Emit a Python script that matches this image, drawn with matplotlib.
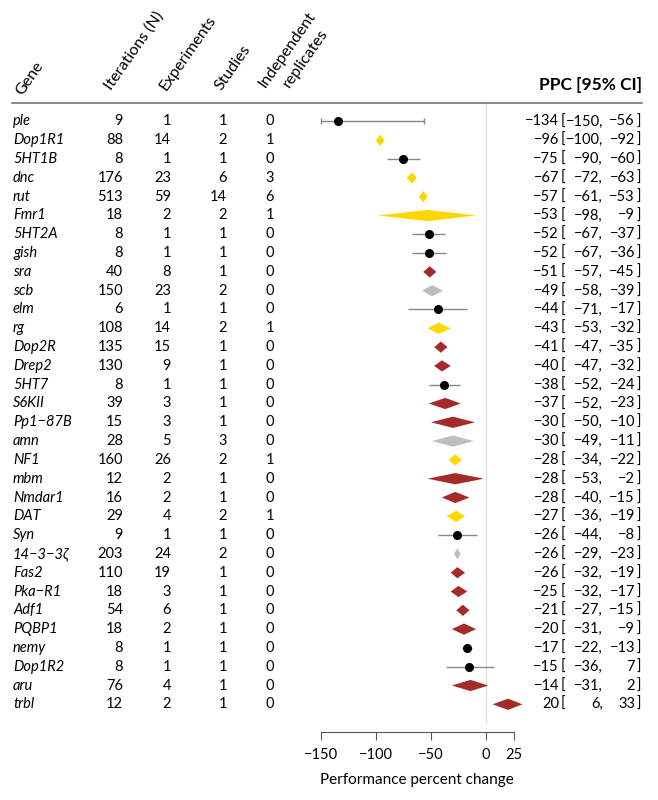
import numpy as np
import matplotlib
matplotlib.use("Agg")
import matplotlib.pyplot as plt
from matplotlib.lines import Line2D
from matplotlib.patches import Polygon
from matplotlib.transforms import blended_transform_factory

plt.rcParams['font.family'] = ['Lato', 'DejaVu Sans']
plt.rcParams['font.size'] = 10.5

# ---- data ----
genes = ["ple", "Dop1R1", "5HT1B", "dnc", "rut", "Fmr1", "5HT2A", "gish", "sra", "scb",
         "elm", "rg", "Dop2R", "Drep2", "5HT7", "S6KII", "Pp1\u221287B", "amn", "NF1", "mbm",
         "Nmdar1", "DAT", "Syn", "14\u22123\u22123\u03b6", "Fas2", "Pka\u2212R1", "Adf1", "PQBP1",
         "nemy", "Dop1R2", "aru", "trbl"]
iterations = [9, 88, 8, 176, 513, 18, 8, 8, 40, 150, 6, 108, 135, 130, 8, 39, 15, 28, 160, 12,
              16, 29, 9, 203, 110, 18, 54, 18, 8, 8, 76, 12]
experiments = [1, 14, 1, 23, 59, 2, 1, 1, 8, 23, 1, 14, 15, 9, 1, 3, 3, 5, 26, 2,
               2, 4, 1, 24, 19, 3, 6, 2, 1, 1, 4, 2]
studies = [1, 2, 1, 6, 14, 2, 1, 1, 1, 2, 1, 2, 1, 1, 1, 1, 1, 3, 2, 1,
           1, 2, 1, 2, 1, 1, 1, 1, 1, 1, 1, 1]
replicates = [0, 1, 0, 3, 6, 1, 0, 0, 0, 0, 0, 1, 0, 0, 0, 0, 0, 0, 1, 0,
              0, 1, 0, 0, 0, 0, 0, 0, 0, 0, 0, 0]
ppc = [-134, -96, -75, -67, -57, -53, -52, -52, -51, -49, -44, -43, -41, -40, -38, -37, -30, -30,
       -28, -28, -28, -27, -26, -26, -26, -25, -21, -20, -17, -15, -14, 20]
ci_lo = [-150, -100, -90, -72, -61, -98, -67, -67, -57, -58, -71, -53, -47, -47, -52, -52, -50, -49,
         -34, -53, -40, -36, -44, -29, -32, -32, -27, -31, -22, -36, -31, 6]
ci_hi = [-56, -92, -60, -63, -53, -9, -37, -36, -45, -39, -17, -32, -35, -32, -24, -23, -10, -11,
         -22, -2, -15, -19, -8, -23, -19, -17, -15, -9, -13, 7, 2, 33]

x_ticks = [-150, -100, -50, 0, 25]

GOLD, BROWN, GREY = "#FFD700", "#A52A2A", "#BEBEBE"

W, H = 658, 800


def fx(px):
    return px / W


def fy(py):
    return 1 - py / H


def minus(v):
    return f"{v}".replace("-", "\u2212")


fig = plt.figure(figsize=(W / 100, H / 100), dpi=100)

# forest panel: -150 -> 320.7px, 0 -> 486px
x0, x1 = -160, 35
scale = (486 - 320.7) / 150
left_px = 486 + scale * x0
right_px = 486 + scale * x1
top_px, bot_px = 103, 731.7
row0, step = 121.5, 18.8
y_top = (top_px - row0) / step
y_bot = 31 + (bot_px - (row0 + 31 * step)) / step

ax = fig.add_axes([fx(left_px), fy(bot_px), fx(right_px - left_px), (bot_px - top_px) / H])
ax.set_xlim(x0, x1)
ax.set_ylim(y_bot, y_top)
for s in ["top", "right", "left"]:
    ax.spines[s].set_visible(False)
ax.spines["bottom"].set_bounds(-150, 25)
ax.spines["bottom"].set_color("#555555")
ax.set_yticks([])
ax.set_xticks(x_ticks)
ax.set_xticklabels([minus(t) for t in x_ticks])
ax.tick_params(axis="x", length=6, color="#555555", labelsize=10.5, pad=6)
ax.set_xlabel("Performance percent change", fontsize=11, va="center")
ax.xaxis.set_label_coords((-62.5 - x0) / (x1 - x0), (bot_px - 780) / (bot_px - top_px))

ax.axvline(0, ymin=0.014, ymax=1, color="#DDDDDD", lw=1, zorder=0)

half_h = 0.3
for i in range(len(genes)):
    if experiments[i] == 1:
        caps = 2 if i == 0 else 0
        ax.errorbar(ppc[i], i, xerr=[[ppc[i] - ci_lo[i]], [ci_hi[i] - ppc[i]]],
                    fmt="o", color="black", ms=5.5, ecolor="#888888", elinewidth=1,
                    capsize=caps, zorder=3)
    else:
        if replicates[i] >= 1:
            c = GOLD
        elif studies[i] >= 2:
            c = GREY
        else:
            c = BROWN
        ax.add_patch(Polygon([(ci_lo[i], i), (ppc[i], i - half_h), (ci_hi[i], i), (ppc[i], i + half_h)],
                             closed=True, facecolor=c, edgecolor="none", zorder=3))

# ---- table text ----
tr = blended_transform_factory(fig.transFigure, ax.transData)
col_right = [123, 171, 227, 274]
for i, g in enumerate(genes):
    ax.text(fx(13), i, g, transform=tr, ha="left", va="center", style="italic", clip_on=False)
    for xp, vals in zip(col_right, [iterations, experiments, studies, replicates]):
        ax.text(fx(xp), i, str(vals[i]), transform=tr, ha="right", va="center", clip_on=False)
    ax.text(fx(559), i, minus(ppc[i]), transform=tr, ha="right", va="center", clip_on=False)
    ax.text(fx(561), i, "[", transform=tr, ha="left", va="center", clip_on=False)
    ax.text(fx(603), i, minus(ci_lo[i]) + ",", transform=tr, ha="right", va="center", clip_on=False)
    ax.text(fx(635), i, minus(ci_hi[i]), transform=tr, ha="right", va="center", clip_on=False)
    ax.text(fx(637), i, "]", transform=tr, ha="left", va="center", clip_on=False)

# ---- header ----
rot = 55
headers = [("Gene", 22, 96), ("Iterations (N)", 111, 91), ("Experiments", 166, 91),
           ("Studies", 221, 91), ("Independent", 265, 88), ("replicates", 289, 88)]
for txt, xp, yp in headers:
    fig.text(fx(xp), fy(yp), txt, rotation=rot, rotation_mode="anchor",
             ha="left", va="baseline", fontsize=11.5)
fig.text(fx(642), fy(85), "PPC [95% CI]", ha="right", va="center", fontsize=12.5, fontweight="bold")
fig.add_artist(Line2D([fx(12), fx(642)], [fy(top_px), fy(top_px)], color="#777777", lw=1.2))

fig.savefig("out.png", dpi=100, facecolor="white")
